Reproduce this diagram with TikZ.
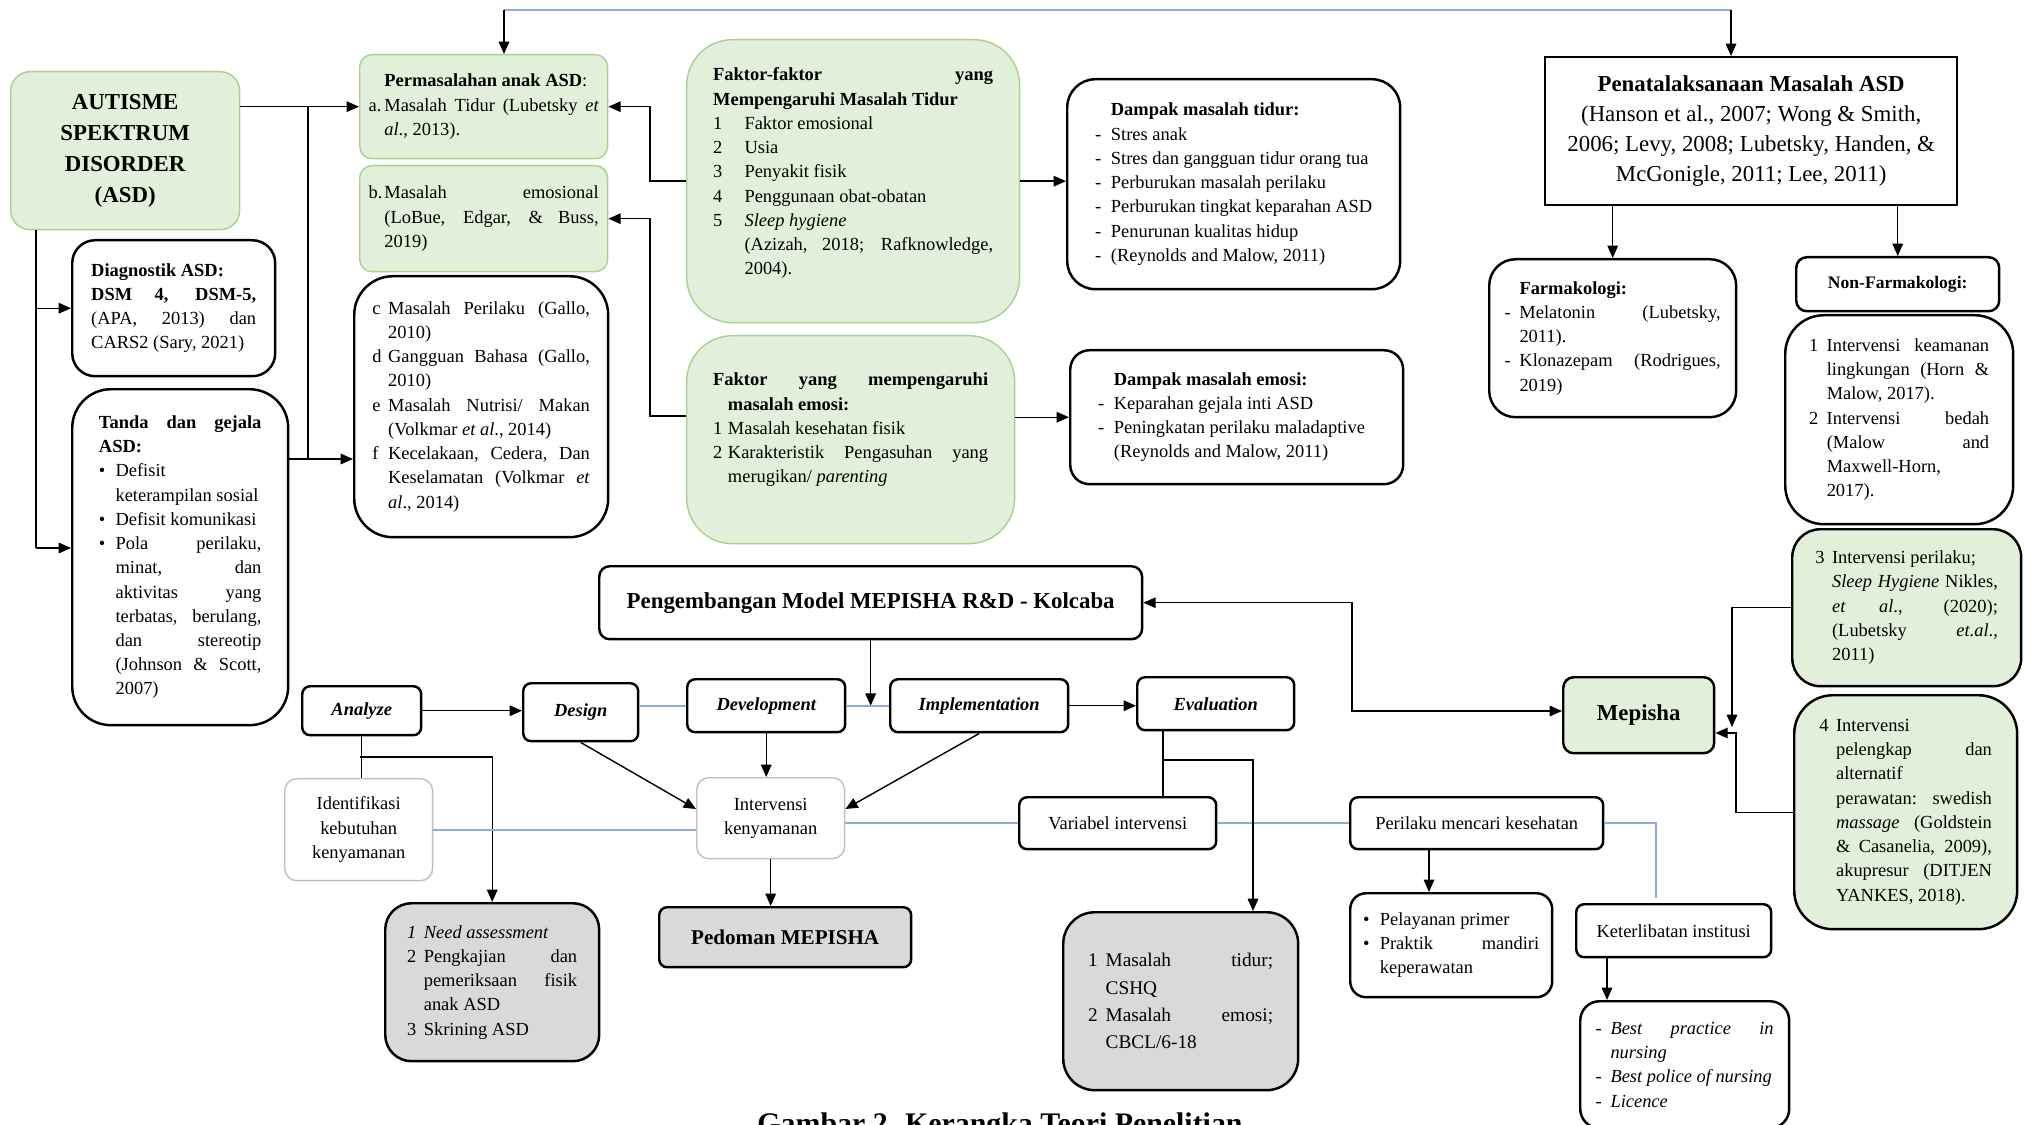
\documentclass[tikz,border=0pt]{standalone}
\usepackage{fontspec}
\setmainfont{Liberation Serif}
\usetikzlibrary{arrows.meta,positioning,calc}
\definecolor{grnfill}{HTML}{E2EFDA}
\definecolor{grnline}{HTML}{A9D18E}
\definecolor{gryfill}{HTML}{D9D9D9}
\definecolor{lgray}{HTML}{BFBFBF}
\definecolor{blueline}{HTML}{8FAADC}
\newcommand{\hitem}[3][1em]{\par\noindent\hangindent=#1\hangafter=1\makebox[#1][l]{#2}#3\par}
\newcommand{\boxtext}[2]{\begin{minipage}{#1}#2\end{minipage}}

\begin{document}
\begin{tikzpicture}[x=0.02cm,y=-0.02cm,>={Triangle[length=7pt,width=6pt]},line width=0.8pt,
  every node/.style={font=\fontsize{10.5}{13.8}\selectfont,inner sep=0pt},
  boxsize/.style 2 args={anchor=north west,minimum width=#1,minimum height=#2},
  wbox/.style={draw,line width=1.4pt,fill=white,rounded corners=#1},wbox/.default=6pt,
  gbox/.style={draw=grnline,line width=0.8pt,fill=grnfill,rounded corners=#1},gbox/.default=6pt,
  gkbox/.style={draw,line width=1.4pt,fill=grnfill,rounded corners=#1},gkbox/.default=6pt,
  gybox/.style={draw,line width=1.4pt,fill=gryfill,rounded corners=#1},gybox/.default=6pt,
  lbox/.style={draw=lgray,line width=0.8pt,fill=white,rounded corners=7pt,align=center},
  pbox/.style={wbox=4.5pt,font=\bfseries\itshape\fontsize{10.5}{13.8}\selectfont},
  blueln/.style={draw=blueline,line width=1pt}]
  \fill[white] (0,0) rectangle (2026,1125);
  \useasboundingbox (0,0) rectangle (2026,1125);

  % kolom kiri
  \node[gbox=11pt,boxsize={4.58cm}{3.16cm},align=center,
        font=\bfseries\fontsize{13}{17.6}\selectfont] (asd) at (10,71) {AUTISME\\SPEKTRUM\\DISORDER\\(ASD)};
  \node[wbox=13pt,boxsize={4.06cm}{2.72cm}] (diag) at (71,239) {\boxtext{3.3cm}{%
    \textbf{Diagnostik ASD:}\par\textbf{DSM 4, DSM-5,}\linebreak (APA, 2013) dan\linebreak CARS2 (Sary, 2021)}};
  \node[wbox=22pt,boxsize={4.32cm}{6.72cm}] (tanda) at (71,388) {\boxtext{3.25cm}{%
    \textbf{Tanda dan gejala}\linebreak\textbf{ASD:}
     \hitem[0.9em]{\textbullet}{Defisit\newline keterampilan sosial}
     \hitem[0.9em]{\textbullet}{Defisit komunikasi}
     \hitem[0.9em]{\textbullet}{Pola perilaku,\linebreak minat, dan\linebreak aktivitas yang\linebreak terbatas, berulang,\linebreak dan stereotip\linebreak (Johnson \& Scott,\linebreak 2007)}}};

  \node[gbox=7pt,boxsize={4.96cm}{2.08cm}] (perm) at (359,54) {\boxtext{4.6cm}{%
    \hspace*{0.85em}\textbf{Permasalahan anak ASD}:
     \hitem[0.85em]{a.}{Masalah Tidur (Lubetsky \textit{et al}., 2013).}}};
  \node[gbox=7pt,boxsize={4.96cm}{2.12cm}] (emo) at (359,165) {\boxtext{4.6cm}{%
    \hitem[0.85em]{b.}{Masalah emosional\linebreak (LoBue, Edgar, \& Buss,\linebreak 2019)}}};
  \node[wbox=22pt,boxsize={5.08cm}{5.22cm}] (cf) at (353,275) {\boxtext{4.35cm}{%
     \hitem[0.85em]{c}{Masalah Perilaku (Gallo,\linebreak 2010)}
     \hitem[0.85em]{d}{Gangguan Bahasa (Gallo,\linebreak 2010)}
     \hitem[0.85em]{e}{Masalah Nutrisi/ Makan\linebreak (Volkmar \textit{et al}., 2014)}
     \hitem[0.85em]{f}{Kecelakaan, Cedera, Dan\linebreak Keselamatan (Volkmar \textit{et}\linebreak \textit{al}., 2014)}}};

  % faktor dan dampak
  \node[gbox=26pt,boxsize={6.66cm}{5.66cm}] (ftidur) at (686,39) {\boxtext{5.6cm}{%
    \textbf{Faktor-faktor yang}\linebreak\textbf{Mempengaruhi Masalah Tidur}
     \hitem[1.7em]{1}{Faktor emosional}
     \hitem[1.7em]{2}{Usia}
     \hitem[1.7em]{3}{Penyakit fisik}
     \hitem[1.7em]{4}{Penggunaan obat-obatan}
     \hitem[1.7em]{5}{\textit{Sleep hygiene}\newline (Azizah, 2018; Rafknowledge,\linebreak 2004).}
     \vspace*{9pt}}};
  \node[gbox=26pt,boxsize={6.56cm}{4.16cm}] (femo) at (686,335) {\boxtext{5.5cm}{%
    \noindent\hangindent=0.8em\hangafter=1\textbf{Faktor yang mempengaruhi}\linebreak\textbf{masalah emosi:}\par
     \hitem[0.8em]{1}{Masalah kesehatan fisik}
     \hitem[0.8em]{2}{Karakteristik Pengasuhan yang\linebreak merugikan/ \textit{parenting}}
     \vspace*{11pt}}};
  \node[wbox=16pt,boxsize={6.66cm}{4.2cm}] (dtidur) at (1066,78) {\boxtext{5.54cm}{%
    \hspace*{0.85em}\textbf{Dampak masalah tidur:}
     \hitem[0.85em]{-}{Stres anak}
     \hitem[0.85em]{-}{Stres dan gangguan tidur orang tua}
     \hitem[0.85em]{-}{Perburukan masalah perilaku}
     \hitem[0.85em]{-}{Perburukan tingkat keparahan ASD}
     \hitem[0.85em]{-}{Penurunan kualitas hidup}
     \hitem[0.85em]{-}{(Reynolds and Malow, 2011)}}};
  \node[wbox=11pt,boxsize={6.66cm}{2.68cm}] (demo) at (1069,349) {\boxtext{5.54cm}{%
    \hspace*{0.85em}\textbf{Dampak masalah emosi:}
     \hitem[0.85em]{-}{Keparahan gejala inti ASD}
     \hitem[0.85em]{-}{Peningkatan perilaku maladaptive}
     \hspace*{0.85em}(Reynolds and Malow, 2011)}};

  % penatalaksanaan
  \node[draw,line width=1.4pt,fill=white,boxsize={8.24cm}{2.96cm},align=center,
        font=\fontsize{13}{17}\selectfont] (pena) at (1544,56)
    {\textbf{Penatalaksanaan Masalah ASD}\\(Hanson et al., 2007; Wong \& Smith,\\2006; Levy, 2008; Lubetsky, Handen, \&\\McGonigle, 2011; Lee, 2011)};
  \node[wbox=15pt,boxsize={4.94cm}{3.16cm}] (farm) at (1488,258) {\boxtext{4.32cm}{%
    \hspace*{0.8em}\textbf{Farmakologi:}
     \hitem[0.8em]{-}{Melatonin (Lubetsky,\linebreak 2011).}
     \hitem[0.8em]{-}{Klonazepam (Rodrigues,\linebreak 2019)}}};
  \node[wbox=6pt,boxsize={4.06cm}{1.08cm},font=\bfseries\fontsize{10}{13}\selectfont] (nonf) at (1795,256) {Non-Farmakologi:};
  \node[wbox=22pt,boxsize={4.56cm}{4.18cm}] (nonl) at (1784,314) {\boxtext{3.6cm}{%
     \hitem[0.95em]{1}{Intervensi keamanan\linebreak lingkungan (Horn \&\linebreak Malow, 2017).}
     \hitem[0.95em]{2}{Intervensi bedah\linebreak (Malow and\linebreak Maxwell-Horn,\newline 2017).}}};
  \node[gkbox=16pt,boxsize={4.58cm}{3.14cm}] (int3) at (1791,528) {\boxtext{3.65cm}{%
     \hitem[0.9em]{3}{Intervensi perilaku;\newline \textit{Sleep Hygiene} Nikles,\linebreak \textit{et al}., (2020);\linebreak (Lubetsky \textit{et.al}.,\linebreak 2011)}}};
  \node[gkbox=22pt,boxsize={4.46cm}{4.68cm}] (int4) at (1793,694) {\boxtext{3.45cm}{%
     \hitem[0.9em]{4}{Intervensi\newline pelengkap dan\linebreak alternatif\newline perawatan: swedish\linebreak \textit{massage} (Goldstein\linebreak \& Casanelia, 2009),\linebreak akupresur (DITJEN\linebreak YANKES, 2018).}}};

  % model MEPISHA
  \node[wbox=6pt,boxsize={10.86cm}{1.46cm},font=\bfseries\fontsize{13}{17}\selectfont] (peng) at (598,565)
    {Pengembangan Model MEPISHA R\&D - Kolcaba};
  \node[pbox,boxsize={2.38cm}{0.98cm}] (analyze) at (301,685) {Analyze};
  \node[pbox,boxsize={2.3cm}{1.16cm}] (design) at (522,682) {Design};
  \node[pbox,boxsize={3.16cm}{1.06cm}] (devel) at (686,678) {Development};
  \node[pbox,boxsize={3.56cm}{1.06cm}] (impl) at (889,678) {Implementation};
  \node[pbox,boxsize={3.14cm}{1.06cm}] (eval) at (1136,676) {Evaluation};
  \node[gkbox=6pt,boxsize={3.02cm}{1.52cm},font=\bfseries\fontsize{13}{17}\selectfont] (mepisha) at (1562,676) {Mepisha};

  \node[lbox,boxsize={2.96cm}{2.04cm}] (ident) at (284,778) {Identifikasi\\kebutuhan\\kenyamanan};
  \node[lbox,boxsize={2.96cm}{1.62cm}] (interv) at (696,777) {Intervensi\\kenyamanan};
  \node[gybox=4.5pt,boxsize={5.04cm}{1.2cm},font=\bfseries\fontsize{12}{15}\selectfont] (pedoman) at (658,906) {Pedoman MEPISHA};
  \node[gybox=15pt,boxsize={4.28cm}{3.16cm}] (need) at (384,902) {\boxtext{3.4cm}{%
     \hitem[0.9em]{\textit{1}}{\textit{Need assessment}}
     \hitem[0.9em]{2}{Pengkajian dan\linebreak pemeriksaan fisik\linebreak anak ASD}
     \hitem[0.9em]{3}{Skrining ASD}}};
  \node[wbox=4.5pt,boxsize={3.94cm}{1.04cm}] (varint) at (1018,796) {Variabel intervensi};
  \node[gybox=18pt,boxsize={4.7cm}{3.56cm},font=\fontsize{11}{15.5}\selectfont] (cshq) at (1062,911) {\boxtext{3.7cm}{%
     \hitem[0.9em]{1}{Masalah tidur;\linebreak CSHQ}
     \hitem[0.9em]{2}{Masalah emosi;\linebreak CBCL/6-18}}};
  \node[wbox=4.5pt,boxsize={5.06cm}{1.04cm}] (peril) at (1349,796) {Perilaku mencari kesehatan};
  \node[wbox=9pt,boxsize={4.04cm}{2.08cm}] (pelay) at (1349,892) {\boxtext{3.52cm}{%
     \hitem[0.9em]{\textbullet}{Pelayanan primer}
     \hitem[0.9em]{\textbullet}{Praktik mandiri\linebreak keperawatan}}};
  \node[wbox=4.5pt,boxsize={3.9cm}{1.06cm}] (keterl) at (1575,903) {Keterlibatan institusi};
  \node[wbox=11pt,boxsize={4.18cm}{2.54cm}] (best) at (1579,1000) {\boxtext{3.56cm}{%
     \hitem[0.8em]{-}{\textit{Best practice in}\linebreak\textit{nursing}}
     \hitem[0.8em]{-}{\textit{Best police of nursing}}
     \hitem[0.8em]{-}{\textit{Licence}}}};

  \node[anchor=north,font=\bfseries\fontsize{17}{20}\selectfont] (cap) at (1000,1112)
    {Gambar 2. Kerangka Teori Penelitian};

  \coordinate (tl) at (504,10);
  \coordinate (tr) at (1731,10);
  \coordinate (jv) at (308,459);
  \coordinate (lv) at (36,548);
  \coordinate (fb) at (650,416);
  \coordinate (aj) at (360,757);
  \coordinate (ej) at (1163,760);
  \coordinate (ek) at (1253,760);
  \coordinate (mv) at (1352,711);
  \coordinate (m3) at (1732,727);
  \coordinate (mj) at (1736,733);
  \coordinate (pk) at (1656,898);
  \coordinate (pa) at (1429,848);
  \coordinate (ka) at (1607,956);

  \draw[blueln] (tl) -- (tr);
  \path[->] (tl) edge (tl |- perm.north)
            (tr) edge (tr |- pena.north);
  \draw[->] (asd.east |- perm.west) -- (perm.west);
  \draw (jv) -- (jv |- perm.west);
  \draw[->] (tanda.east |- jv) -- (cf.west |- jv);
  \draw (asd.south -| lv) -- (lv);
  \draw[->] (lv |- diag.west) -- (diag.west);
  \draw[->] (lv) -- (lv -| tanda.west);
  \draw[->] (ftidur.west) -- (ftidur.west -| fb) |- (perm.east);
  \draw[->] (fb -| femo.west) -- (fb) |- (emo.east);
  \draw[->] (ftidur.east) -- (ftidur.east -| dtidur.west);
  \draw[->] (femo.east |- demo.west) -- (demo.west);
  \path[->] (pena.south -| farm.north) edge (farm.north)
            (pena.south -| nonf.north) edge (nonf.north);

  \draw[->] (peng.south) -- (peng.south |- devel.east);
  \draw[blueln] (design.east |- devel.west) -- (devel.west);
  \draw[blueln] (devel.east) -- (impl.west);
  \draw[->] (analyze.east) -- (analyze.east -| design.west);
  \draw[->] (impl.east) -- (impl.east -| eval.west);
  \draw[<->] (peng.east) -| (mv) -- (mv -| mepisha.west);
  \draw[->] (int3.west) -| (m3);
  \draw[->] (int4.west) -| (mj) -- (mj -| mepisha.east);

  \draw (analyze.south) -- (analyze.south |- ident.north);
  \draw[->] (aj) -| (need.north);
  \draw[->] (design.south) -- (interv.173);
  \draw[->] (devel.south) -- (devel.south |- interv.north);
  \draw[->] (impl.south) -- (interv.7);
  \draw[->] (interv.south) -- (interv.south |- pedoman.north);
  \draw[blueln] (ident.east) -- (ident.east -| interv.west);
  \draw[blueln] (interv.east |- varint.west) -- (varint.west);
  \draw[blueln] (varint.east) -- (peril.west);
  \draw[blueln] (peril.east) -| (pk);
  \draw (ej |- eval.south) -- (ej |- varint.north);
  \draw[->] (ej) -- (ek) -- (ek |- cshq.north);
  \draw[->] (pa) -- (pa |- pelay.north);
  \draw[->] (ka) -- (ka |- best.north);
\end{tikzpicture}
\end{document}
